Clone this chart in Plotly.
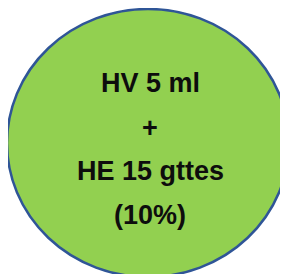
import plotly.graph_objects as go

lines = ["HV 5 ml", "+", "HE 15 gttes", "(10%)"]
line_y = [83, 128, 171, 215]

fig = go.Figure()
fig.add_shape(type="circle", xref="x", yref="y", x0=7, x1=289, y0=9, y1=277,
              fillcolor="#92D050", line=dict(color="#2F5597", width=2.5), layer="below")
for t, y in zip(lines, line_y):
    fig.add_annotation(x=150, y=y, text="<b>%s</b>" % t, showarrow=False,
                       font=dict(family="Liberation Sans", size=27, color="#0d0d0d"),
                       xanchor="center", yanchor="middle")
# page body has an 8px margin: map data coordinates to page pixels
fig.update_xaxes(range=[8, 288], visible=False)
fig.update_yaxes(range=[274, 8], visible=False)
fig.update_layout(width=280, height=266, margin=dict(l=0, r=0, t=0, b=0),
                  paper_bgcolor="white", plot_bgcolor="white", showlegend=False)
fig.write_html("out.html")
